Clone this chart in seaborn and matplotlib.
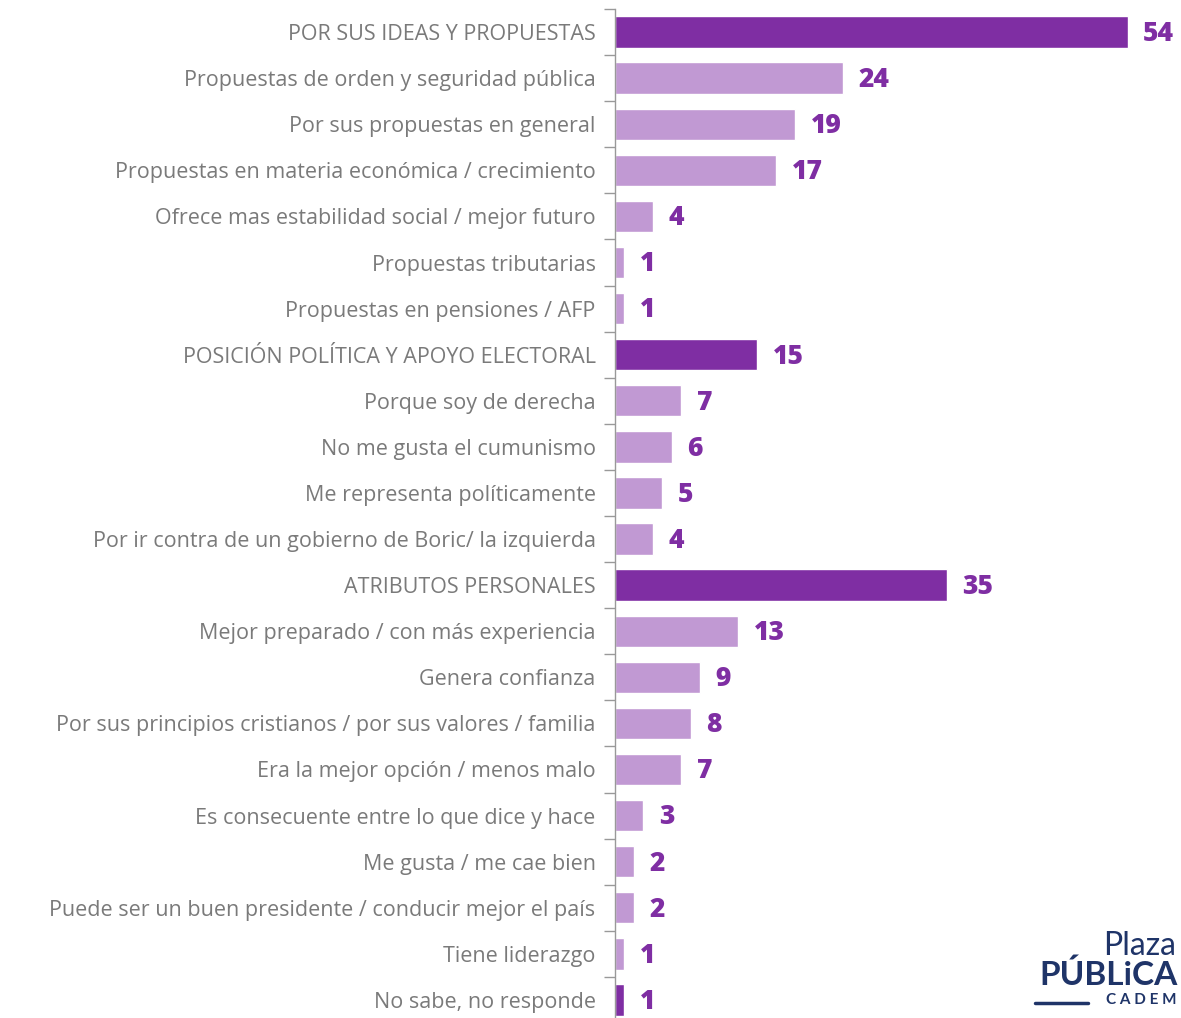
import numpy as np
import pandas as pd
import seaborn as sns
import matplotlib.pyplot as plt

labels = [
    "POR SUS IDEAS Y PROPUESTAS",
    "Propuestas de orden y seguridad pública",
    "Por sus propuestas en general",
    "Propuestas en materia económica / crecimiento",
    "Ofrece mas estabilidad social / mejor futuro",
    "Propuestas tributarias",
    "Propuestas en pensiones / AFP",
    "POSICIÓN POLÍTICA Y APOYO ELECTORAL",
    "Porque soy de derecha",
    "No me gusta el cumunismo",
    "Me representa políticamente",
    "Por ir contra de un gobierno de Boric/ la izquierda",
    "ATRIBUTOS PERSONALES",
    "Mejor preparado / con más experiencia",
    "Genera confianza",
    "Por sus principios cristianos / por sus valores / familia",
    "Era la mejor opción / menos malo",
    "Es consecuente entre lo que dice y hace",
    "Me gusta / me cae bien",
    "Puede ser un buen presidente / conducir mejor el país",
    "Tiene liderazgo",
    "No sabe, no responde",
]
values = [54, 24, 19, 17, 4, 1, 1, 15, 7, 6, 5, 4, 35, 13, 9, 8, 7, 3, 2, 2, 1, 1]
is_group = [True, False, False, False, False, False, False, True, False, False, False, False,
            True, False, False, False, False, False, False, False, False, True]

dark = "#7F2EA3"
light = "#C199D3"
label_color = "#7A7A7A"

df = pd.DataFrame({"label": labels, "value": values,
                   "kind": ["g" if g else "s" for g in is_group]})

sns.set_style("white")
plt.rcParams['font.family'] = ['Open Sans', 'DejaVu Sans']

fig = plt.figure(figsize=(11.81, 10.18), dpi=100)
ax = fig.add_axes([615 / 1181, -5 / 1018, 1 - 615 / 1181, 1 - 4 / 1018])

sns.barplot(data=df, y="label", x="value", hue="kind", palette={"g": dark, "s": light},
            orient="h", width=0.68, legend=False, ax=ax, saturation=1)

# value labels
for i, v in enumerate(values):
    ax.text(v + 1.6, i + 0.04, str(v), va="center", ha="left", color=dark,
            fontsize=19, fontweight=800)

ax.set_xlim(0, 59.6)
ax.set_ylim(len(labels) - 0.5, -0.5)
ax.set_xlabel("")
ax.set_ylabel("")
ax.set_xticks([])
ax.set_yticks(np.arange(len(labels) + 1) - 0.5, minor=True)
ax.tick_params(axis="y", which="minor", length=8, color="#999999", width=1, left=True)
ax.tick_params(axis="y", which="major", length=0, pad=14, labelsize=15.5, labelcolor=label_color)
for s in ["top", "right", "bottom"]:
    ax.spines[s].set_visible(False)
ax.spines["left"].set_color("#999999")
ax.spines["left"].set_linewidth(1)

# logo
navy = "#1F3468"
fig.text(1176 / 1181, 1 - 946 / 1018, "Plaza", ha="right", va="center",
         fontsize=23, color=navy, family=["Lato", "DejaVu Sans"])
fig.text(1178 / 1181, 1 - 975 / 1018, "PÚBLiCA", ha="right", va="center",
         fontsize=24, color=navy, fontweight="bold", family=["Lato", "DejaVu Sans"])
fig.text(1176 / 1181, 1 - 1000 / 1018, "C A D E M", ha="right", va="center",
         fontsize=11, color=navy, fontweight="bold", family=["Lato", "DejaVu Sans"])
fig.add_artist(plt.Line2D([1035 / 1181, 1088 / 1181], [1 - 1003 / 1018, 1 - 1003 / 1018],
                          color=navy, linewidth=2.5))

fig.savefig("out.png", dpi=100)
